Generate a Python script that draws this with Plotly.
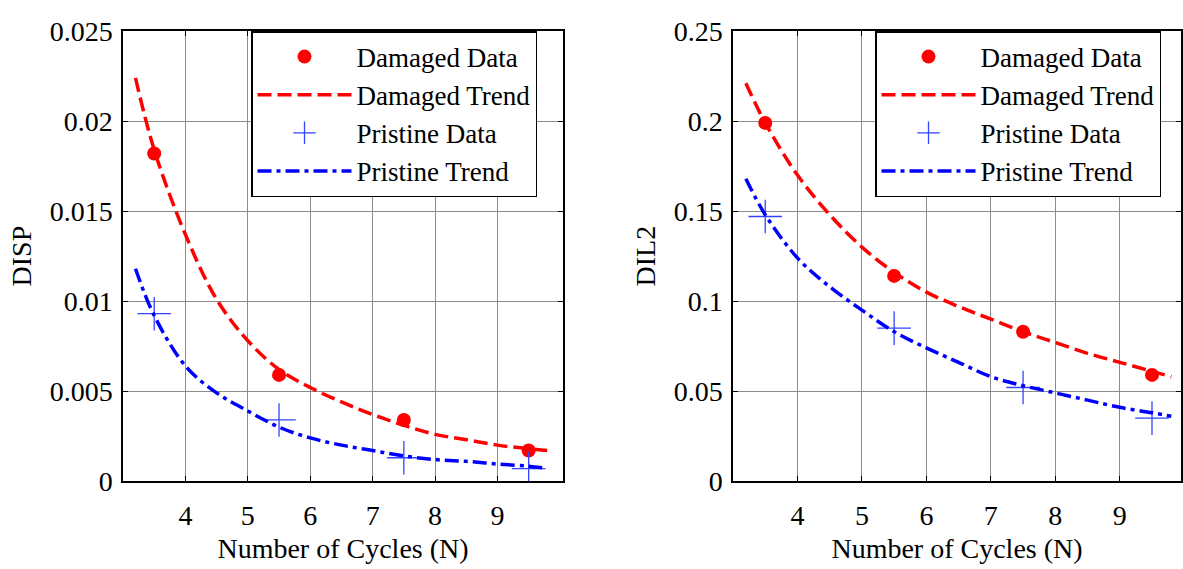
import plotly.graph_objects as go

# ---- data ----
data_x = [3.5, 5.5, 7.5, 9.5]
trend_x = [3.2, 3.5, 4.0, 4.5, 5.0, 5.5, 6.0, 6.5, 7.0, 7.5, 8.0, 8.5, 9.0, 9.5, 9.8]

disp_damaged_data = [0.0182, 0.0059, 0.0034, 0.0017]
disp_pristine_data = [0.0093, 0.0034, 0.0013, 0.0007]
disp_damaged_trend = [0.0224, 0.0184, 0.0137, 0.0101, 0.0078, 0.0062, 0.0052, 0.0044, 0.0037, 0.0031,
                      0.0026, 0.0023, 0.0020, 0.0018, 0.0017]
disp_pristine_trend = [0.0118, 0.0092, 0.0064, 0.0049, 0.0039, 0.0030, 0.0024, 0.0020, 0.0017, 0.0014,
                       0.0012, 0.0011, 0.00095, 0.00083, 0.0007]

dil2_damaged_data = [0.199, 0.114, 0.083, 0.059]
dil2_pristine_data = [0.147, 0.085, 0.052, 0.035]
dil2_damaged_trend = [0.221, 0.199, 0.170, 0.148, 0.130, 0.116, 0.105, 0.097, 0.090, 0.083,
                      0.077, 0.071, 0.066, 0.061, 0.058]
dil2_pristine_trend = [0.168, 0.148, 0.124, 0.108, 0.095, 0.083, 0.074, 0.066, 0.058, 0.053,
                       0.049, 0.045, 0.041, 0.038, 0.036]

x_ticks = [4, 5, 6, 7, 8, 9]
disp_ticks = [0, 0.005, 0.01, 0.015, 0.02, 0.025]
disp_labels = ["0", "0.005", "0.01", "0.015", "0.02", "0.025"]
dil2_ticks = [0, 0.05, 0.1, 0.15, 0.2, 0.25]
dil2_labels = ["0", "0.05", "0.1", "0.15", "0.2", "0.25"]

series_names = ["Damaged Data", "Damaged Trend", "Pristine Data", "Pristine Trend"]

FONT = "'Liberation Serif', 'Times New Roman', Times, serif"
FS = 28
RED = "#ff0000"
BLUE = "#0000ff"
PBLUE = "#3344ff"

fig = go.Figure()


def add_panel(xa, ya, leg, dd, dt, pd_, pt):
    fig.add_trace(go.Scatter(x=data_x, y=dd, mode="markers", name=series_names[0],
                             marker=dict(symbol="circle", size=14, color=RED),
                             xaxis=xa, yaxis=ya, legend=leg))
    fig.add_trace(go.Scatter(x=trend_x, y=dt, mode="lines", name=series_names[1],
                             line=dict(color=RED, width=3.5, dash="14px,6px", shape="spline"),
                             xaxis=xa, yaxis=ya, legend=leg))
    fig.add_trace(go.Scatter(x=data_x, y=pd_, mode="markers", name=series_names[2],
                             marker=dict(symbol="cross-thin-open", size=24, color=PBLUE,
                                         line=dict(color=PBLUE, width=1.3)),
                             xaxis=xa, yaxis=ya, legend=leg))
    fig.add_trace(go.Scatter(x=trend_x, y=pt, mode="lines", name=series_names[3],
                             line=dict(color=BLUE, width=3.5, dash="14px,5px,4px,5px", shape="spline"),
                             xaxis=xa, yaxis=ya, legend=leg))


add_panel("x", "y", "legend", disp_damaged_data, disp_damaged_trend, disp_pristine_data, disp_pristine_trend)
add_panel("x2", "y2", "legend2", dil2_damaged_data, dil2_damaged_trend, dil2_pristine_data, dil2_pristine_trend)

W, H = 1183, 569
ytop, ybot = 17, 493
ydom = [(H - ybot) / H, (H - ytop) / H]

tfont = dict(family=FONT, size=FS, color="black")
lfont = dict(family=FONT, size=27, color="black")
axis_common = dict(showline=True, linecolor="black", linewidth=1.5, mirror="ticks",
                   ticks="inside", ticklen=5, tickcolor="black",
                   showgrid=True, gridcolor="#8c8c8c", gridwidth=1,
                   zeroline=False, tickfont=tfont)

legend_common = dict(font=lfont, bgcolor="white",
                     bordercolor="black", borderwidth=1.5, xanchor="left", yanchor="top",
                     itemwidth=94, tracegroupgap=0)

fig.update_layout(
    width=W, height=H,
    margin=dict(l=0, r=0, t=0, b=0),
    paper_bgcolor="white", plot_bgcolor="white",
    xaxis=dict(domain=[123 / W, 563 / W], range=[3.0, 10.05], tickvals=x_ticks,
               ticklabelstandoff=9,
               title=dict(text="Number of Cycles (N)", font=tfont, standoff=8),
               anchor="y", **axis_common),
    yaxis=dict(domain=ydom, range=[0, 0.025], tickvals=disp_ticks, ticktext=disp_labels,
               ticklabelstandoff=3,
               title=dict(text="DISP", font=tfont, standoff=10),
               anchor="x", **axis_common),
    xaxis2=dict(domain=[733 / W, 1181 / W], range=[3.0, 9.95], tickvals=x_ticks,
                ticklabelstandoff=9,
                title=dict(text="Number of Cycles (N)", font=tfont, standoff=8),
                anchor="y2", **axis_common),
    yaxis2=dict(domain=ydom, range=[0, 0.25], tickvals=dil2_ticks, ticktext=dil2_labels,
                ticklabelstandoff=3,
                title=dict(text="DIL2", font=tfont, standoff=10),
                anchor="x2", **axis_common),
    legend=dict(x=251 / W, y=1 - 17 / H, **legend_common),
    legend2=dict(x=875 / W, y=1 - 17 / H, **legend_common),
    showlegend=True,
)

fig.write_html("out.html")
